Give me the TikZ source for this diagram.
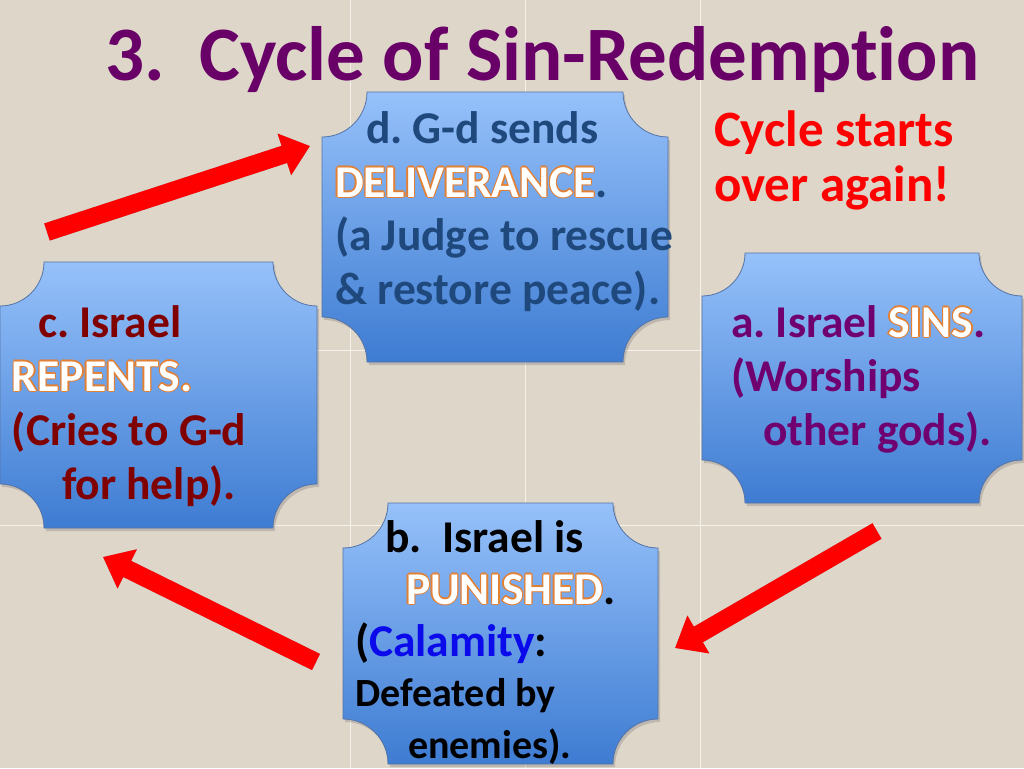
\documentclass[tikz,border=0pt]{standalone}
\usepackage{fontspec}
\setmainfont{Carlito}[Ligatures=NoCommon]
\usetikzlibrary{arrows.meta,shadows}
\definecolor{bg}{RGB}{222,214,201}
\definecolor{gridc}{RGB}{245,242,236}
\definecolor{ttl}{RGB}{104,0,104}
\definecolor{dblue}{RGB}{31,73,125}
\definecolor{maroonc}{RGB}{128,0,0}
\definecolor{apurple}{RGB}{112,0,112}
\definecolor{boxtop}{RGB}{150,193,250}
\definecolor{boxbot}{RGB}{62,124,210}
\definecolor{boxedge}{RGB}{85,115,165}
\definecolor{ocol}{RGB}{226,128,52}
\definecolor{calam}{RGB}{10,10,235}
\definecolor{arrred}{RGB}{255,0,0}
\definecolor{arrshade}{RGB}{80,70,130}
\newcommand\owpart[3]{\rlap{\hspace*{#1}\raisebox{#2}{\textcolor{ocol}{#3}}}}
\newcommand\glowtxt[1]{\leavevmode{%
  \owpart{1.3pt}{0pt}{#1}\owpart{-1.3pt}{0pt}{#1}%
  \owpart{0pt}{1.3pt}{#1}\owpart{0pt}{-1.3pt}{#1}%
  \owpart{0.95pt}{0.95pt}{#1}\owpart{-0.95pt}{0.95pt}{#1}%
  \owpart{0.95pt}{-0.95pt}{#1}\owpart{-0.95pt}{-0.95pt}{#1}%
  \textcolor{white}{#1}}}
\newcommand\plaquepath[5]{({#1+#5},#2) -- ({#3-#5},#2)
  .. controls ({#3-#5},{#2+0.552*#5}) and ({#3-0.552*#5},{#2+#5}) .. (#3,{#2+#5})
  -- (#3,{#4-#5})
  .. controls ({#3-0.552*#5},{#4-#5}) and ({#3-#5},{#4-0.552*#5}) .. ({#3-#5},#4)
  -- ({#1+#5},#4)
  .. controls ({#1+#5},{#4-0.552*#5}) and ({#1+0.552*#5},{#4-#5}) .. (#1,{#4-#5})
  -- (#1,{#2+#5})
  .. controls ({#1+0.552*#5},{#2+#5}) and ({#1+#5},{#2+0.552*#5}) .. cycle}
\newcommand\bodyfont{\frenchspacing\fontsize{45.5}{54}\selectfont\bfseries}
\newcommand\smallbodyfont{\frenchspacing\fontsize{40}{48}\selectfont\bfseries}
\newcommand\notefont{\frenchspacing\fontsize{51}{60}\selectfont\bfseries}
\newcommand\titlefont{\frenchspacing\fontsize{77}{84}\selectfont\bfseries}
\begin{document}
\begin{tikzpicture}[x=1pt,y=-1pt,
  every node/.style={inner sep=0pt,outer sep=0pt},
  txt/.style={anchor=base west,font=\bodyfont},
  plaque/.style={draw=boxedge,line width=0.8pt,top color=boxtop,bottom color=boxbot,
    drop shadow={opacity=0.35,shadow xshift=2pt,shadow yshift=-3pt}},
  gridline/.style={draw=gridc,line width=1pt},
  bigarrow/.style={draw=arrred,line width=18pt,-{Triangle[width=42pt,length=27pt]}},
  arrowshade/.style={draw=arrshade,opacity=0.45,line width=18pt,-{Triangle[width=42pt,length=27pt]}}]
\path[use as bounding box,fill=bg] (0,0) rectangle (1024,768);
% faint tile lines of the background
\path[gridline] (350,0) -- (350,768) (525,0) -- (525,768) (700,0) -- (700,768)
  (0,350) -- (1024,350) (0,525) -- (1024,525);
% title
\node[anchor=base west,font=\titlefont,text=ttl] (title) at (105,80) {3.\ \ Cycle of Sin-Redemption};
% boxes
\path[plaque] \plaquepath{322}{92}{668}{362}{45};
\path[plaque] \plaquepath{0}{262}{317}{528}{44};
\path[plaque] \plaquepath{702}{253}{1022}{503}{43};
\path[plaque] \plaquepath{343}{503}{658}{764}{45};
% box d text
\node[txt,text=dblue] (d1) at (366,143) {d. G-d sends};
\node[txt,text=dblue] (d2) at (335,197) {\glowtxt{DELIVERANCE}.};
\node[txt,text=dblue] (d3) at (335,250) {(a Judge to rescue};
\node[txt,text=dblue] (d4) at (335,304) {\& restore peace).};
% box c text
\node[txt,text=maroonc] (c1) at (38,337) {c. Israel};
\node[txt,text=maroonc] (c2) at (12,391) {\glowtxt{REPENTS.}};
\node[txt,text=maroonc] (c3) at (12,445) {(Cries to G-d};
\node[txt,text=maroonc] (c4) at (62,499) {for help).};
% box a text
\node[txt,text=apurple] (a1) at (731,337) {a. Israel \glowtxt{SINS}.};
\node[txt,text=apurple] (a2) at (731,391) {(Worships};
\node[txt,text=apurple] (a3) at (763,445) {other gods).};
% box b text
\node[txt,text=black] (b1) at (385,552) {b.\ \ Israel is};
\node[txt,text=black] (b2) at (406,604) {\glowtxt{PUNISHED}.};
\node[txt,text=black] (b3) at (355,656) {(\textcolor{calam}{Calamity}:};
\node[txt,font=\smallbodyfont,text=black] (b4) at (355,706) {Defeated by};
\node[txt,font=\smallbodyfont,text=black] (b5) at (408,758) {enemies).};
% red note
\node[anchor=base west,font=\notefont,text=arrred] (n1) at (714,146) {Cycle starts};
\node[anchor=base west,font=\notefont,text=arrred] (n2) at (714,201) {over again!};
% arrows
\coordinate (t1) at (47,232); \coordinate (h1) at (310,146);
\coordinate (t2) at (877,531); \coordinate (h2) at (675,648);
\coordinate (t3) at (316,662); \coordinate (h3) at (103,557);
\begin{scope}[xshift=2pt,yshift=3pt]
\draw[arrowshade] (t1) -- (h1);
\draw[arrowshade] (t2) -- (h2);
\draw[arrowshade] (t3) -- (h3);
\end{scope}
\draw[bigarrow] (t1) -- (h1);
\draw[bigarrow] (t2) -- (h2);
\draw[bigarrow] (t3) -- (h3);
\end{tikzpicture}
\end{document}
